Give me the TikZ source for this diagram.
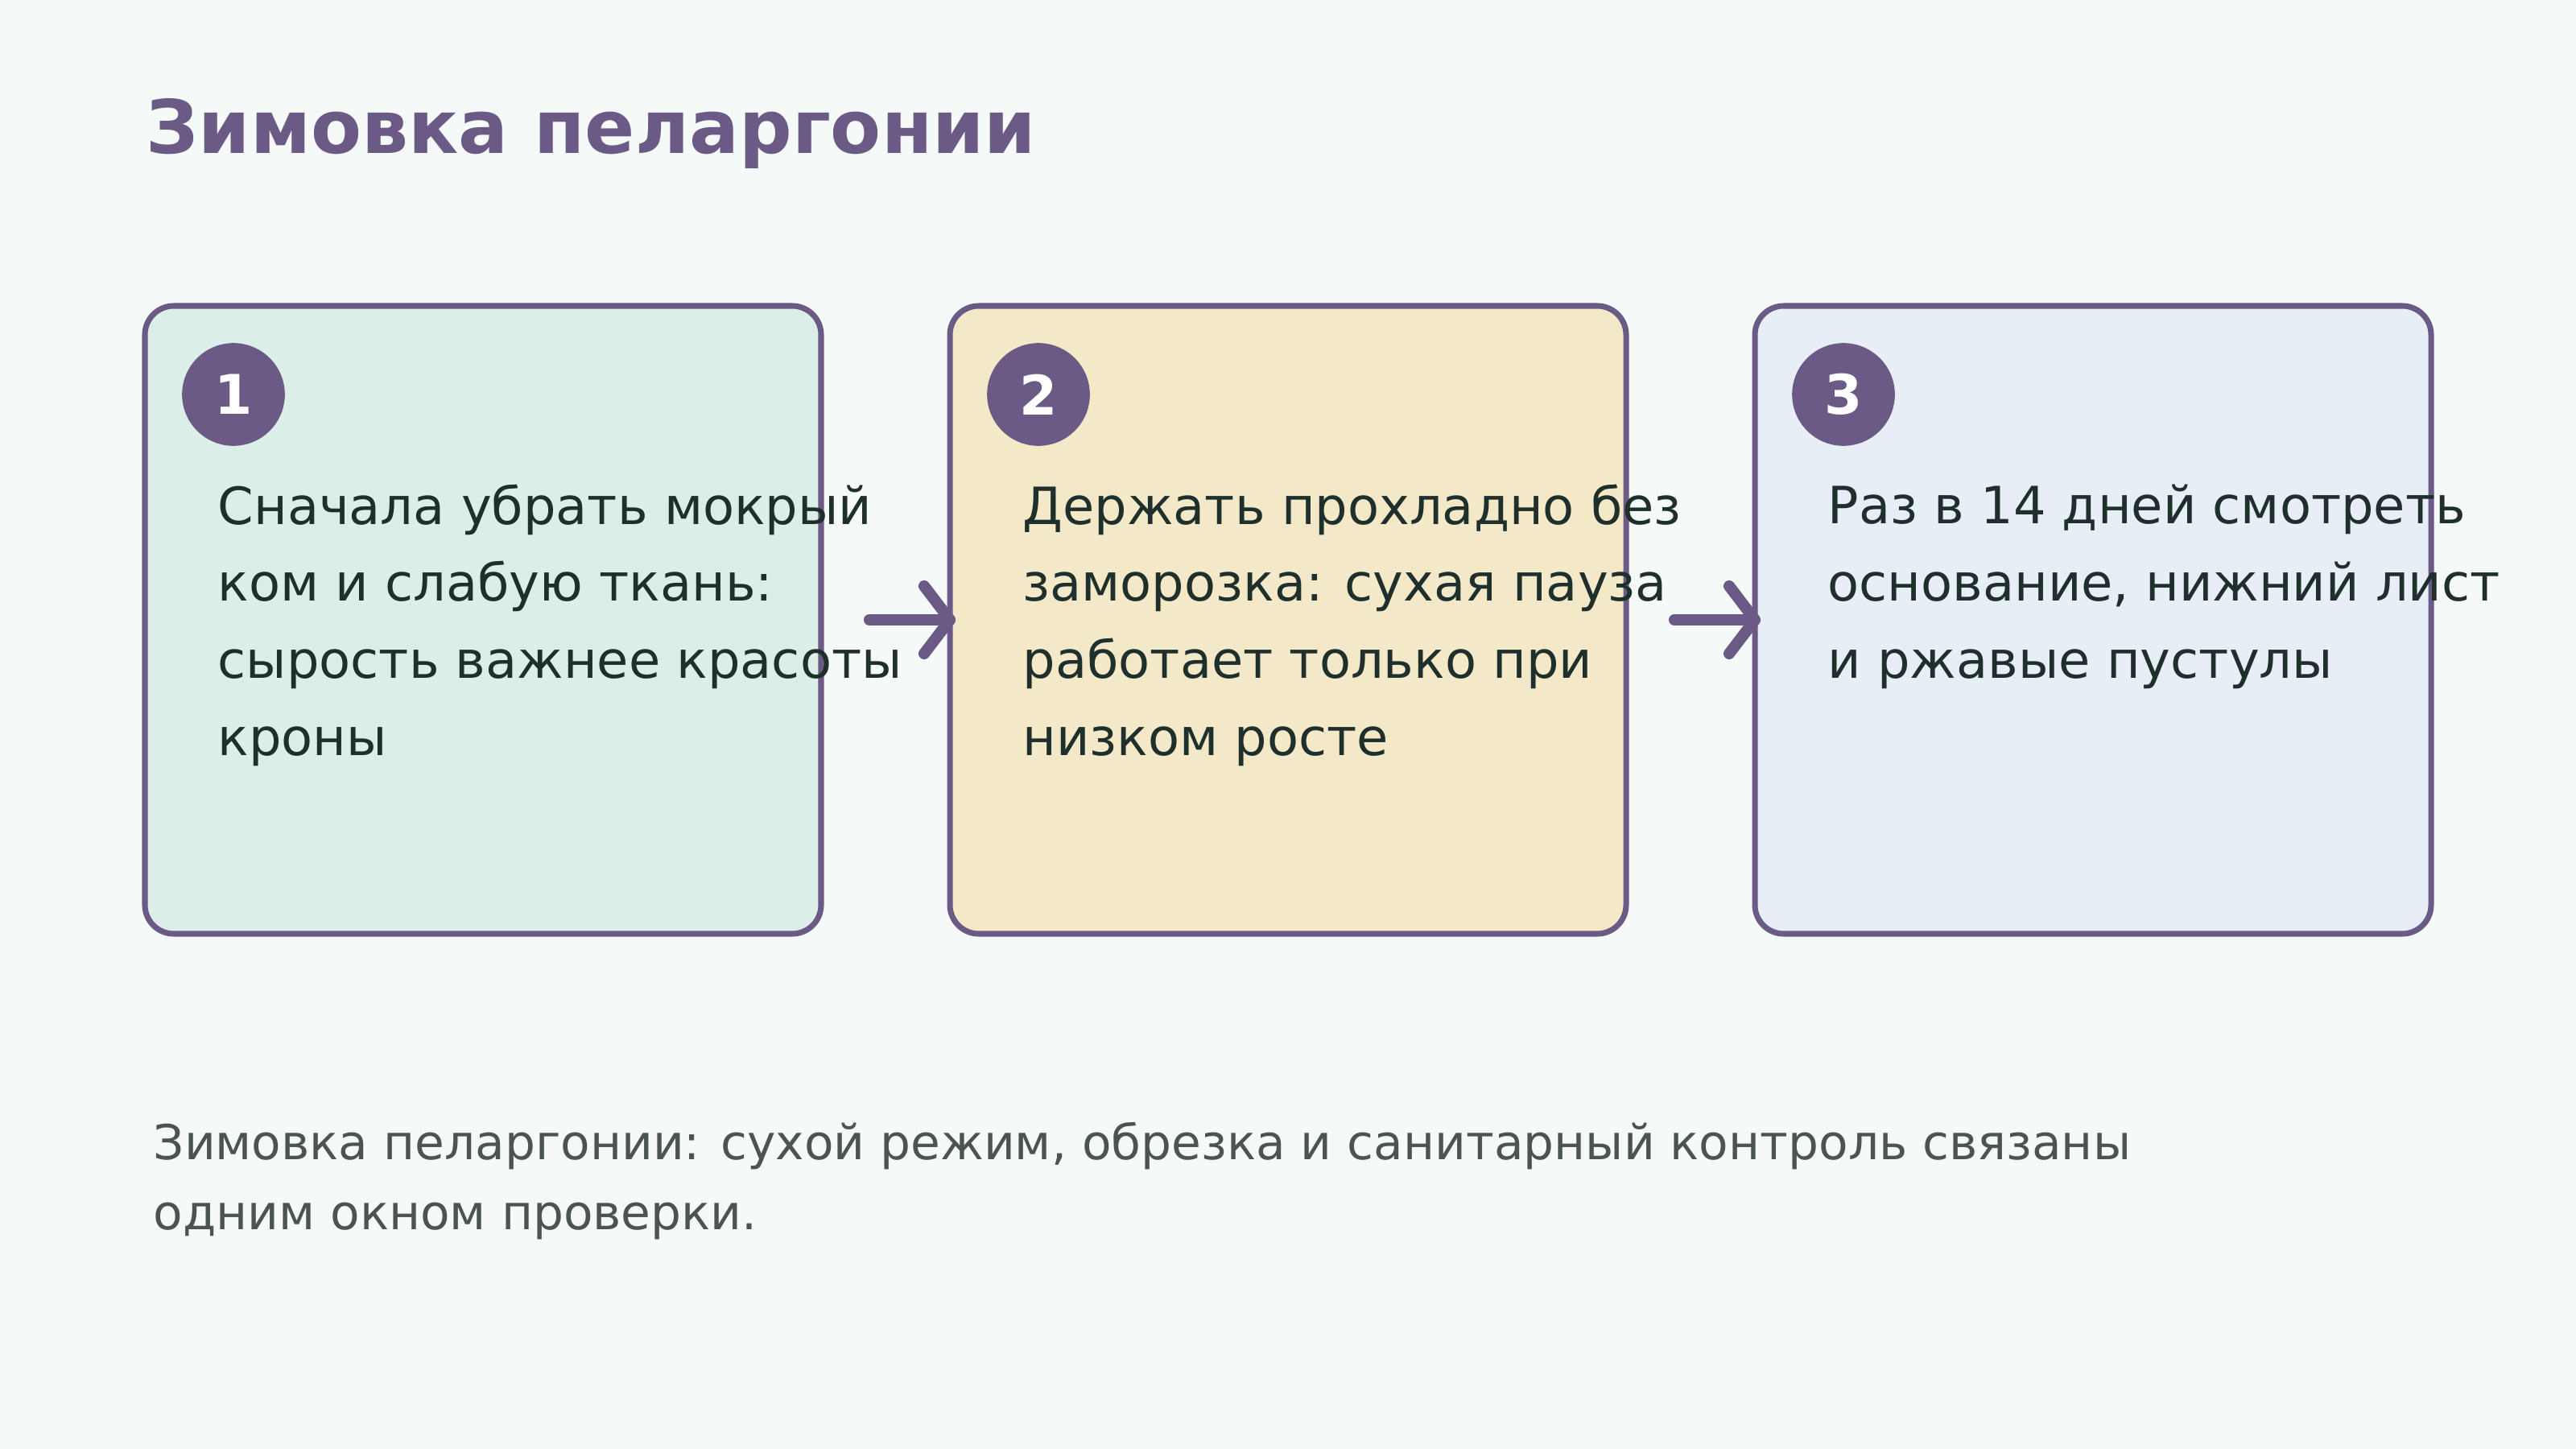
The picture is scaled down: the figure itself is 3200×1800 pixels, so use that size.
\documentclass[tikz,border=0pt]{standalone}
\usepackage{fontspec}
\setmainfont{DejaVu Sans}
\usetikzlibrary{calc}
\definecolor{bgc}{HTML}{F5F9F8}
\definecolor{purp}{HTML}{6B5A85}
\definecolor{fillA}{HTML}{DCEEE8}
\definecolor{fillB}{HTML}{F3E8C8}
\definecolor{fillC}{HTML}{E7EEF6}
\definecolor{txt}{HTML}{1F2F2C}
\definecolor{foot}{HTML}{4A5552}
\tikzset{
  card/.style={draw=purp, line width=2pt, rounded corners=10.2pt},
  badge/.style={circle, fill=purp, minimum size=36.3pt, inner sep=0pt, text=white, font=\fontsize{19.3}{20}\selectfont\bfseries},
  body/.style={anchor=base west, align=left, inner sep=0pt, text=txt, font=\fontsize{18.15}{27.2}\selectfont},
  arr/.style={draw=purp, line width=4pt, line cap=round, line join=round},
}
\begin{document}
\begin{tikzpicture}[x=0.01cm, y=-0.01cm]
\fill[bgc] (0,0) rectangle (3200,1800);
\useasboundingbox (0,0) rectangle (3200,1800);
\node[anchor=base west, inner sep=0pt, text=purp, font=\fontsize{26.1}{30}\selectfont\bfseries] (title) at (181,190) {Зимовка пеларгонии};
\path[card, fill=fillA] (180,380) rectangle (1020,1160);
\path[card, fill=fillB] (1180,380) rectangle (2020,1160);
\path[card, fill=fillC] (2180,380) rectangle (3020,1160);
\coordinate (b1e) at (1020,770);
\coordinate (b2w) at (1180,770);
\coordinate (b2e) at (2020,770);
\coordinate (b3w) at (2180,770);
\node[badge] (n1) at (290,490) {1};
\node[badge] (n2) at (1290,490) {2};
\node[badge] (n3) at (2290,490) {3};
\node[body] (t1) at (270,938) {Сначала убрать мокрый\\ком и слабую ткань:\\сырость важнее красоты\\кроны};
\node[body] (t2) at (1270,938) {Держать прохладно без\\заморозка: сухая пауза\\работает только при\\низком росте};
\node[body] (t3) at (2270,842) {Раз в 14 дней смотреть\\основание, нижний лист\\и ржавые пустулы};
\draw[arr] ($(b1e)+(60,0)$) -- (b2w);
\draw[arr] ($(b2w)+(-32,-42)$) -- (b2w) -- ($(b2w)+(-32,42)$);
\draw[arr] ($(b2e)+(60,0)$) -- (b3w);
\draw[arr] ($(b3w)+(-32,-42)$) -- (b3w) -- ($(b3w)+(-32,42)$);
\node[anchor=base west, align=left, inner sep=0pt, text=foot, font=\fontsize{17}{24.7}\selectfont] (foot) at (190,1527) {Зимовка пеларгонии: сухой режим, обрезка и санитарный контроль связаны\\одним окном проверки.};
\end{tikzpicture}
\end{document}
